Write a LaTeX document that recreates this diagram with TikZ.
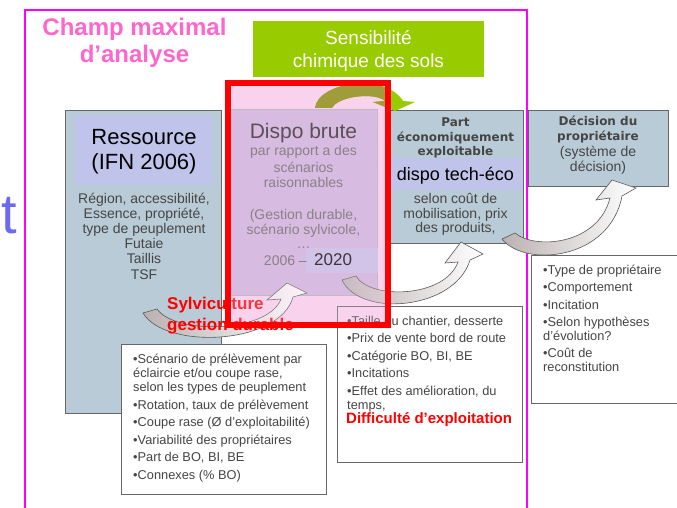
\documentclass[tikz,border=0pt]{standalone}
\usepackage{fontspec}
\setmainfont{Liberation Sans}
\newfontfamily\widefont{DejaVu Sans}
\usepackage{xcolor}
\usepackage{tikz}
\usetikzlibrary{positioning}

\definecolor{champpink}{HTML}{FF66CC}
\definecolor{framemag}{HTML}{FF00FF}
\definecolor{soilgreen}{HTML}{99CC00}
\definecolor{soilolive}{HTML}{A09C3C}
\definecolor{boxblue}{HTML}{B9CBD6}
\definecolor{bandlav}{HTML}{C0C4EA}
\definecolor{dispopink}{HTML}{F9D3EE}
\definecolor{dispolav}{HTML}{CDB3DD}
\definecolor{txtgray}{HTML}{454545}
\definecolor{tblue}{HTML}{6B6BF0}
\definecolor{arrowgray}{HTML}{BBB1B1}

\tikzset{
  box/.style={draw=gray!80!black, line width=0.9pt, inner sep=0pt, outer sep=0pt, anchor=north west},
  plain/.style={inner sep=0pt, outer sep=0pt, anchor=north west},
  txtline/.style={inner sep=0pt, anchor=base, text=txtgray, font=\fontsize{14}{15}\selectfont},
  listline/.style={inner sep=0pt, anchor=base west, text=txtgray, font=\fontsize{12.8}{14}\selectfont},
  titleline/.style={inner sep=0pt, anchor=base, text=txtgray, font=\widefont\bfseries\fontsize{12}{14}\selectfont},
  redtxt/.style={inner sep=0pt, anchor=base west, text=red, font=\bfseries\fontsize{17}{20}\selectfont},
  champ/.style={inner sep=0pt, anchor=base, text=champpink, font=\bfseries\fontsize{24}{27}\selectfont},
  bigarrow/.style={draw=gray!70!black, line width=0.6pt, left color=arrowgray, right color=white},
}

\begin{document}
\begin{tikzpicture}[x=1pt, y=-1pt]
  \useasboundingbox (0,0) rectangle (677,508);

  % champ maximal
  \draw[framemag, line width=2pt] (25,508) -- (25,10) -- (527,10) -- (527,508);
  \node[champ] (champ1) at (134.5,36) {Champ maximal};
  \node[champ] (champ2) at (134.5,63) {d’analyse};
  \node[inner sep=0pt, anchor=base west, text=tblue, font=\fontsize{56}{60}\selectfont] (tcut) at (1,233) {t};

  % sensibilite des sols
  \node[plain, fill=soilgreen, minimum width=231pt, minimum height=56pt] (sol) at (253,21) {};
  \node[txtline, text=white, font=\fontsize{19}{23}\selectfont] (sol1) at (368.5,45) {Sensibilité};
  \node[txtline, text=white, font=\fontsize{19}{23}\selectfont] (sol2) at (368.5,68) {chimique des sols};

  % ressource
  \node[box, fill=boxblue, minimum width=156pt, minimum height=303pt] (res) at (65,110) {};
  \node[plain, fill=bandlav, minimum width=138pt, minimum height=70pt] (resband) at (75,115) {};
  \node[txtline, text=black, font=\fontsize{22}{26}\selectfont] (restitle1) at (144,145) {Ressource};
  \node[txtline, text=black, font=\fontsize{22}{26}\selectfont] (restitle2) at (144,169) {(IFN 2006)};
  \foreach \txt [count=\k] in {{Région, accessibilité,}, {Essence, propriété,}, {type de peuplement}, Futaie, Taillis, TSF}
    \node[txtline] (resline\k) at (144, {203+15.2*(\k-1)}) {\txt};

  % dispo brute
  \node[plain, fill=dispopink, minimum width=159.5pt, minimum height=241.5pt] (dispozone) at (228,83) {};
  \node[box, draw=gray!60, fill=dispolav, minimum width=147pt, minimum height=186pt] (dispo) at (230,109) {};
  \node[plain, fill=bandlav!70!dispolav, minimum width=72pt, minimum height=25pt] (yearband) at (306,248) {};
  \node[txtline, text=black!85, font=\fontsize{21}{24}\selectfont] (dispotitle) at (303.5,139) {Dispo brute};
  \foreach \yy/\txt [count=\k] in {156/par rapport a des, 172/scénarios, 187/raisonnables, 219/{(Gestion durable,}, 234/{scénario sylvicole,}, 248/…}
    \node[txtline, text=black!60] (dispoline\k) at (303.5,\yy) {\txt};
  \node[txtline, anchor=base east, text=black!60] (yearfrom) at (307,265) {2006 –};
  \node[txtline, anchor=base west, text=black, font=\fontsize{17}{20}\selectfont] (yearto) at (314,265) {2020};

  % part economiquement exploitable
  \node[box, fill=boxblue, minimum width=135pt, minimum height=133pt] (part) at (388,110) {};
  \node[plain, fill=bandlav, minimum width=134pt, minimum height=32pt] (partband) at (388.5,158) {};
  \foreach \yy/\txt [count=\k] in {127/Part, 141.7/économiquement, 155.7/exploitable}
    \node[titleline] (parttitle\k) at (455.5,\yy) {\txt};
  \node[txtline, text=black, font=\fontsize{18}{20}\selectfont] (partdispo) at (455.5,180) {dispo tech-éco};
  \foreach \yy/\txt [count=\k] in {203/selon coût de, 218/{mobilisation, prix}, 232/{des produits,}}
    \node[txtline] (partline\k) at (455.5,\yy) {\txt};

  % decision du proprietaire
  \node[box, fill=boxblue, minimum width=140pt, minimum height=76pt] (owner) at (528,110) {};
  \foreach \yy/\txt [count=\k] in {126/Décision du, 140.5/propriétaire}
    \node[titleline] (ownertitle\k) at (598,\yy) {\txt};
  \foreach \yy/\txt [count=\k] in {157/(système de, 171.5/décision)}
    \node[txtline] (ownerline\k) at (598,\yy) {\txt};

  % listes
  \node[box, fill=white, minimum width=205pt, minimum height=150pt] (listres) at (121,344) {};
  \foreach \yy/\txt [count=\k] in {363.3/•Scénario de prélèvement par, 377.7/{éclaircie et/ou coupe rase,}, 391.7/selon les types de peuplement,
      409/{•Rotation, taux de prélèvement}, 426.7/•Coupe rase (Ø d’exploitabilité), 444/•Variabilité des propriétaires,
      461.7/{•Part de BO, BI, BE}, 479.3/•Connexes (\% BO)}
    \node[listline] (resitem\k) at (133,\yy) {\txt};

  \node[box, minimum width=185pt, minimum height=156pt] (listeco) at (337,306) {};
  \foreach \yy/\txt [count=\k] in {325/{•Taille du chantier, desserte}, 342.3/•Prix de vente bord de route, 360/{•Catégorie BO, BI, BE},
      377.3/•Incitations, 395/{•Effet des amélioration, du}, 409/{temps,}}
    \node[listline] (ecoitem\k) at (347,\yy) {\txt};
  \node[redtxt, font=\bfseries\fontsize{15}{18}\selectfont] (difficulte) at (346,423.3) {Difficulté d’exploitation};

  \node[box, fill=white, minimum width=147pt, minimum height=148pt] (listowner) at (531,255) {};
  \foreach \yy/\txt [count=\k] in {274.3/•Type de propriétaire, 291.7/•Comportement, 309/•Incitation, 326.7/•Selon hypothèses,
      340/d’évolution?, 357.7/•Coût de, 371/reconstitution}
    \node[listline] (owneritem\k) at (543,\yy) {\txt};

  % fleches courbes
  \draw[bigarrow] (143,313) .. controls (165,350) and (280,345) .. (293,297) -- (307,293) -- (287,283) -- (267,300)
    -- (281,299) .. controls (268,333) and (175,335) .. (157,309) -- cycle;
  \draw[bigarrow] (342,280) .. controls (360,318) and (455,310) .. (470,260) -- (483,254) -- (461,242) -- (445,263)
    -- (458,262) .. controls (445,298) and (370,300) .. (356,276) -- cycle;
  \draw[bigarrow] (502,239) .. controls (525,268) and (610,260) .. (622,196) -- (636,188) -- (612,180) -- (596,200)
    -- (610,198) .. controls (598,245) and (535,250) .. (515,233) -- cycle;

  \node[redtxt] (sylvi1) at (167,309) {Sylviculture};
  \node[redtxt] (sylvi2) at (167,330) {gestion durable};

  % voile rose et fleche verte
  \fill[dispopink, opacity=0.25] (228,83) rectangle (387.5,324.5);
  \fill[soilgreen] (315,108) .. controls (318,82) and (385,72) .. (403,101) -- (415,102) -- (395,111) -- (373,102)
    -- (385,101) .. controls (375,92) and (338,96) .. (332,108) -- cycle;
  \begin{scope}
    \clip (225,60) rectangle (385,120);
    \fill[soilolive] (315,108) .. controls (318,82) and (385,72) .. (403,101) -- (415,102) -- (395,111) -- (373,102)
      -- (385,101) .. controls (375,92) and (338,96) .. (332,108) -- cycle;
  \end{scope}
  \draw[red, line width=6pt] (228,83) rectangle (387.5,324.5);
\end{tikzpicture}
\end{document}
